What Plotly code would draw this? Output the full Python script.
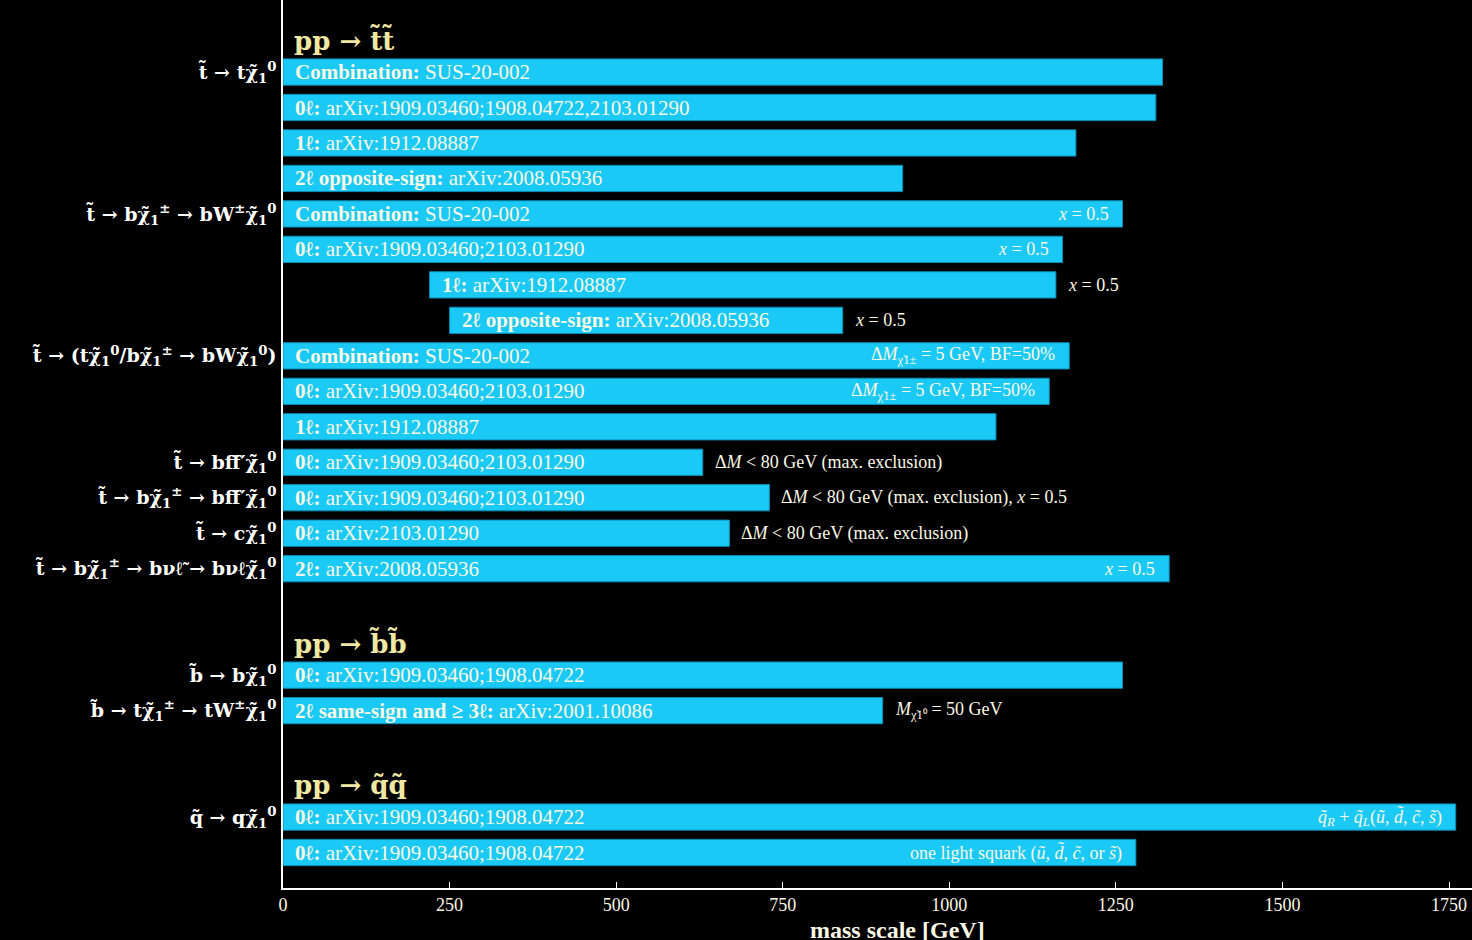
import plotly.graph_objects as go

# ---------------- data ----------------
T = "t\u0303"
B = "b\u0303"
Q = "q\u0303"
CHI = "\u03c7\u0303"
N1 = CHI + "<sub>1</sub><sup>0</sup>"
C1 = CHI + "<sub>1</sub><sup>\u00b1</sup>"

group_titles = ["pp \u2192 " + T + T, "pp \u2192 " + B + B, "pp \u2192 " + Q + Q]
group_sizes = [15, 2, 2]

process_labels = [
    T + " \u2192 t" + N1, "", "", "",
    T + " \u2192 b" + C1 + " \u2192 bW<sup>\u00b1</sup>" + N1, "", "", "",
    T + " \u2192 (t" + N1 + "/b" + C1 + " \u2192 bW" + N1 + ")", "", "",
    T + " \u2192 bff\u0304\u2032" + N1,
    T + " \u2192 b" + C1 + " \u2192 bff\u0304\u2032" + N1,
    T + " \u2192 c" + N1,
    T + " \u2192 b" + C1 + " \u2192 b\u03bd\u2113\u0303 \u2192 b\u03bd\u2113" + N1,
    B + " \u2192 b" + N1,
    B + " \u2192 t" + C1 + " \u2192 tW<sup>\u00b1</sup>" + N1,
    Q + " \u2192 q" + N1, "",
]

analysis_labels = [
    "<b>Combination:</b> SUS-20-002",
    "<b>0\u2113:</b> arXiv:1909.03460;1908.04722,2103.01290",
    "<b>1\u2113:</b> arXiv:1912.08887",
    "<b>2\u2113 opposite-sign:</b> arXiv:2008.05936",
    "<b>Combination:</b> SUS-20-002",
    "<b>0\u2113:</b> arXiv:1909.03460;2103.01290",
    "<b>1\u2113:</b> arXiv:1912.08887",
    "<b>2\u2113 opposite-sign:</b> arXiv:2008.05936",
    "<b>Combination:</b> SUS-20-002",
    "<b>0\u2113:</b> arXiv:1909.03460;2103.01290",
    "<b>1\u2113:</b> arXiv:1912.08887",
    "<b>0\u2113:</b> arXiv:1909.03460;2103.01290",
    "<b>0\u2113:</b> arXiv:1909.03460;2103.01290",
    "<b>0\u2113:</b> arXiv:2103.01290",
    "<b>2\u2113:</b> arXiv:2008.05936",
    "<b>0\u2113:</b> arXiv:1909.03460;1908.04722",
    "<b>2\u2113 same-sign and \u2265 3\u2113:</b> arXiv:2001.10086",
    "<b>0\u2113:</b> arXiv:1909.03460;1908.04722",
    "<b>0\u2113:</b> arXiv:1909.03460;1908.04722",
]

mass_low = [0, 0, 0, 0, 0, 0, 220, 250, 0, 0, 0, 0, 0, 0, 0, 0, 0, 0, 0]
mass_high = [1320, 1310, 1190, 930, 1260, 1170, 1160, 840, 1180, 1150, 1070,
             630, 730, 670, 1330, 1260, 900, 1760, 1280]

X05 = "<i>x</i> = 0.5"
DM5 = "\u0394<i>M</i><sub>" + CHI + "1\u00b1</sub> = 5 GeV, BF=50%"
DM80 = "\u0394<i>M</i> &lt; 80 GeV (max. exclusion)"
notes = [
    "", "", "", "",
    X05, X05, X05, X05,
    DM5, DM5, "",
    DM80, DM80 + ", " + X05, DM80,
    X05,
    "", "<i>M</i><sub>" + CHI + "1\u2070</sub> = 50 GeV",
    "<i>q\u0303<sub>R</sub></i> + <i>q\u0303<sub>L</sub></i>(<i>u\u0303</i>, <i>d\u0303</i>, <i>c\u0303</i>, <i>s\u0303</i>)",
    "one light squark (<i>u\u0303</i>, <i>d\u0303</i>, <i>c\u0303</i>, or <i>s\u0303</i>)",
]
note_inside = [False, False, False, False, True, True, False, False, True, True, False,
               False, False, False, True, False, False, True, True]

x_ticks = [0, 250, 500, 750, 1000, 1250, 1500, 1750]

# ---------------- layout of rows ----------------
header_pos = []
row_pos = []
pos = 0
for n in group_sizes:
    header_pos.append(pos)
    row_pos.extend(range(pos + 1, pos + 1 + n))
    pos += n + 2

SERIF = "Liberation Serif, Times New Roman, serif"
DSERIF = "DejaVu Serif, serif"
BAR = "#1ac9f5"
EDGE = "#0d8db5"
CREAM = "#fbf8e4"
HEAD = "#f0e8a2"

fig = go.Figure()
fig.add_trace(go.Bar(
    orientation="h",
    y=row_pos,
    x=[h - l for h, l in zip(mass_high, mass_low)],
    base=mass_low,
    width=0.74,
    marker=dict(color=BAR, line=dict(color=EDGE, width=1)),
    hoverinfo="skip",
))

ann = []
for y, lo, hi, lab, note, ins in zip(row_pos, mass_low, mass_high, analysis_labels, notes, note_inside):
    ann.append(dict(x=lo, y=y, xref="x", yref="y", text=lab, showarrow=False,
                    xanchor="left", yanchor="middle", xshift=10,
                    font=dict(family=SERIF, size=21, color=CREAM)))
    if note:
        if ins:
            ann.append(dict(x=hi, y=y, xref="x", yref="y", text=note, showarrow=False,
                            xanchor="right", yanchor="middle", xshift=-12,
                            font=dict(family=SERIF, size=18, color=CREAM)))
        else:
            ann.append(dict(x=hi, y=y, xref="x", yref="y", text=note, showarrow=False,
                            xanchor="left", yanchor="middle", xshift=10,
                            font=dict(family=SERIF, size=18, color=CREAM)))

for y, t in zip(header_pos, group_titles):
    ann.append(dict(x=0, y=y, xref="x", yref="y", text="<b>" + t + "</b>", showarrow=False,
                    xanchor="left", yanchor="middle", xshift=9, yshift=-3,
                    font=dict(family=DSERIF, size=26, color=HEAD)))

ann.append(dict(x=923, y=-0.03, xref="x", yref="paper", text="<b>mass scale [GeV]</b>",
                showarrow=False, xanchor="center", yanchor="top",
                font=dict(family=SERIF, size=24, color=CREAM)))

tick_y = [y for y, l in zip(row_pos, process_labels) if l]
tick_t = ["<b>" + l + "</b>" for l in process_labels if l]

fig.update_layout(
    width=1472, height=940,
    margin=dict(l=283, r=0, t=0, b=52),
    paper_bgcolor="black", plot_bgcolor="black",
    showlegend=False,
    annotations=ann,
    xaxis=dict(range=[0, 1784.5], tickvals=x_ticks, ticks="inside", ticklen=6,
               tickcolor="white", showline=True, linecolor="white", linewidth=1.5,
               showgrid=False, zeroline=False,
               tickfont=dict(family=SERIF, size=18, color=CREAM)),
    yaxis=dict(range=[24, -1.03], tickvals=tick_y, ticktext=tick_t, ticks="",
               showline=True, linecolor="white", linewidth=1.5, showgrid=False,
               zeroline=False, ticklabelstandoff=1,
               tickfont=dict(family=DSERIF, size=19, color="white")),
)

fig.write_html("out.html")
